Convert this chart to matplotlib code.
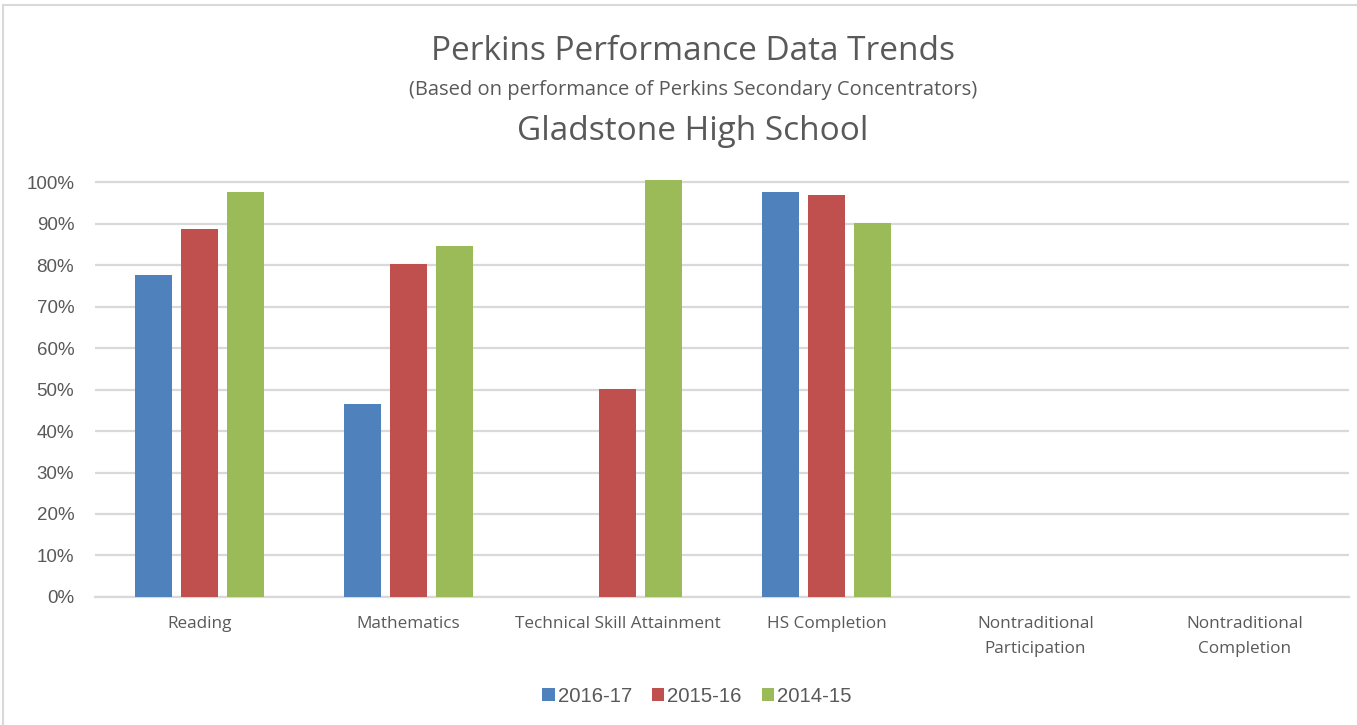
import numpy as np
import matplotlib.pyplot as plt
from matplotlib.lines import Line2D

categories = ["Reading", "Mathematics", "Technical Skill Attainment", "HS Completion",
              "Nontraditional\nParticipation", "Nontraditional\nCompletion"]
series_names = ["2016-17", "2015-16", "2014-15"]
vals_2016 = [0.775, 0.465, np.nan, 0.976, np.nan, np.nan]
vals_2015 = [0.886, 0.802, 0.501, 0.970, np.nan, np.nan]
vals_2014 = [0.976, 0.845, 1.004, 0.901, np.nan, np.nan]
colors = ["#4F81BD", "#C0504D", "#9BBB59"]

title_font = ["Open Sans", "DejaVu Sans"]
grey = "#595959"


def main():
    fig = plt.figure(figsize=(13.57, 7.25), dpi=100)
    ax = fig.add_axes([0.070, 0.1766, 0.924, 0.5751])

    x = np.arange(len(categories))
    width = 0.177
    offset = 0.222
    for i, (vals, name) in enumerate(zip([vals_2016, vals_2015, vals_2014], series_names)):
        ax.bar(x + (i - 1) * offset, vals, width, color=colors[i], label=name, zorder=3)

    ax.set_xlim(-0.5, len(categories) - 0.5)
    ax.set_ylim(0, 1.005)
    ax.set_yticks(np.arange(0, 1.01, 0.1))
    ax.set_yticklabels([f"{int(round(t * 100))}%" for t in np.arange(0, 1.01, 0.1)],
                       fontsize=13.5, color=grey, family="Liberation Sans")
    ax.grid(axis="y", color="#D9D9D9", linewidth=1.6, zorder=0)
    ax.set_xticks(x)
    ax.set_xticklabels(categories, fontsize=12.3, color=grey, family=title_font, linespacing=1.75)
    ax.tick_params(length=0, axis="both")
    ax.tick_params(axis="x", pad=14)
    ax.tick_params(axis="y", pad=15)
    for s in ["top", "right", "left"]:
        ax.spines[s].set_visible(False)
    ax.spines["bottom"].set_color("#D9D9D9")
    ax.spines["bottom"].set_linewidth(1.6)

    fig.text(693 / 1357, 1 - 52 / 725, "Perkins Performance Data Trends", ha="center", va="center",
             fontsize=24, color=grey, family=title_font)
    fig.text(693 / 1357, 1 - 90 / 725, "(Based on performance of Perkins Secondary Concentrators)",
             ha="center", va="center", fontsize=14.5, color=grey, family=title_font)
    fig.text(693 / 1357, 1 - 132 / 725, "Gladstone High School", ha="center", va="center",
             fontsize=24, color=grey, family=title_font)

    leg = fig.legend(loc="center", bbox_to_anchor=(697 / 1357, 1 - 696 / 725), ncol=3, frameon=False,
                     handlelength=0.6, handleheight=0.6, handletextpad=0.15,
                     columnspacing=1.0, prop={"family": "Liberation Sans", "size": 14.6})
    for t in leg.get_texts():
        t.set_color(grey)

    fig.add_artist(Line2D([3 / 1357, 1.0], [1 - 5 / 725, 1 - 5 / 725], color="#D9D9D9", lw=1.5))
    fig.add_artist(Line2D([3 / 1357, 3 / 1357], [0, 1 - 5 / 725], color="#D9D9D9", lw=1.5))

    fig.savefig("out.png", dpi=100, facecolor="white")


if __name__ == '__main__':
    main()
